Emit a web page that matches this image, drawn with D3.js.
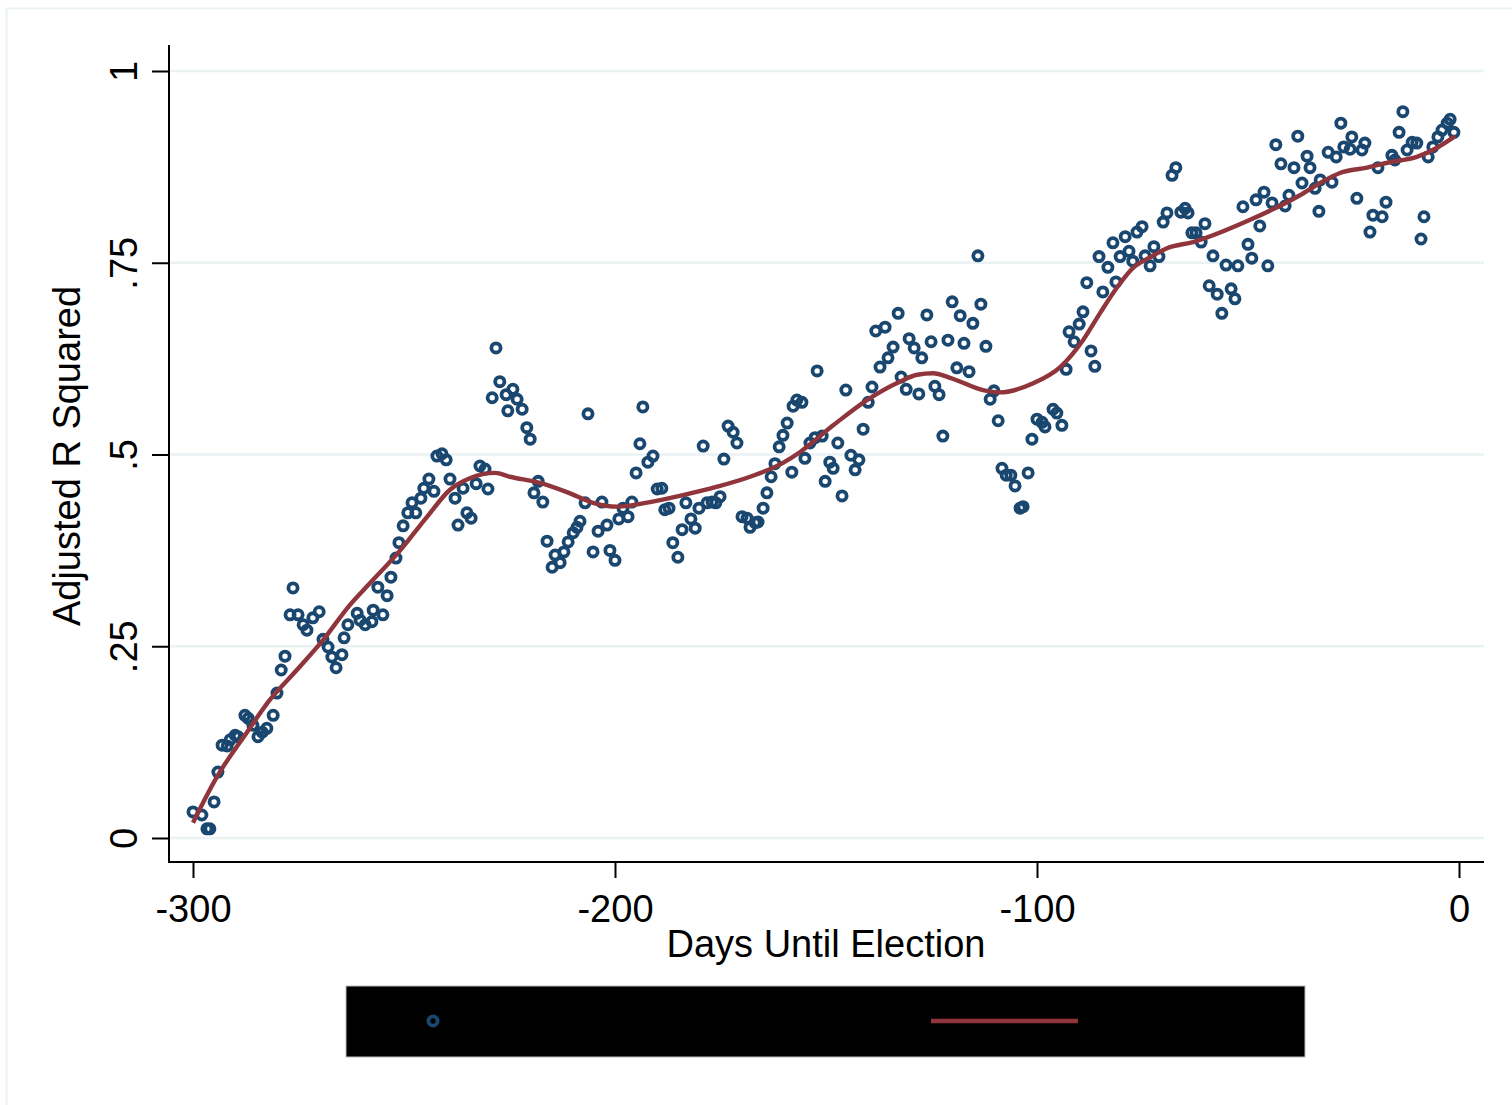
<!DOCTYPE html>
<html>
<head>
<meta charset="utf-8">
<script src="https://cdn.jsdelivr.net/npm/d3@7"></script>
<style>
  body { margin: 0; background: #fff; }
  text { font-family: "Liberation Sans", Arial, sans-serif; }
</style>
</head>
<body>
<div id="chart"></div>
<script>
// 散点数据：距离选举的天数 与 调整后 R 方
const days = [
  -300.0, -297.9, -296.7, -296.0, -295.0, -294.1, -293.1, -291.9, -291.2, -290.0,
  -289.3, -287.7, -286.9, -285.8, -284.6, -283.6, -282.5, -281.0, -280.1, -279.1,
  -278.2, -277.0, -276.3, -275.1, -273.9, -273.0, -271.6, -270.1, -269.2, -268.0,
  -267.1, -266.1, -264.7, -264.2, -263.3, -261.1, -260.4, -259.2, -257.6, -257.3,
  -256.2, -255.0, -254.0, -253.1, -251.9, -251.2, -250.2, -249.1, -248.1, -247.2,
  -246.0, -245.3, -244.1, -242.9, -242.2, -241.0, -240.0, -239.1, -237.9, -237.2,
  -236.0, -235.1, -234.1, -232.9, -232.0, -230.8, -230.1, -229.1, -228.2, -227.3,
  -225.8, -225.4, -224.2, -223.2, -222.0, -220.9, -220.1, -219.2, -218.2, -217.1,
  -216.1, -214.9, -214.2, -213.0, -212.1, -211.1, -209.9, -209.0, -208.3, -207.1,
  -206.4, -205.2, -204.0, -203.1, -201.9, -201.2, -200.0, -199.1, -198.1, -196.9,
  -196.0, -195.0, -194.1, -193.4, -192.2, -191.0, -190.0, -188.9, -188.2, -187.2,
  -186.3, -185.1, -184.1, -183.2, -182.0, -181.0, -180.1, -179.1, -178.2, -177.0,
  -176.1, -175.1, -174.2, -173.2, -172.0, -171.1, -169.9, -168.7, -168.0, -166.8,
  -166.1, -164.9, -164.0, -163.0, -162.1, -161.1, -160.2, -159.2, -158.1, -157.8,
  -156.9, -155.7, -155.0, -153.8, -152.6, -152.1, -150.9, -150.2, -149.1, -148.3,
  -147.2, -146.2, -145.3, -144.1, -143.1, -142.2, -141.2, -140.0, -139.1, -138.2,
  -137.2, -136.0, -135.3, -134.1, -132.9, -132.2, -131.0, -130.3, -129.1, -128.0,
  -127.3, -126.1, -125.1, -124.2, -123.2, -122.3, -121.1, -120.1, -119.0, -118.2,
  -117.3, -116.1, -115.2, -114.0, -113.3, -112.1, -111.1, -110.2, -109.2, -108.3,
  -107.3, -106.2, -105.2, -104.0, -103.3, -102.1, -101.2, -100.0, -98.8, -98.1,
  -96.2, -95.3, -94.1, -93.1, -92.4, -91.2, -90.0, -89.1, -88.2, -87.2,
  -86.3, -85.3, -84.4, -83.2, -82.0, -81.3, -80.3, -79.1, -78.2, -77.3,
  -76.3, -75.1, -74.4, -73.2, -72.3, -71.1, -70.1, -69.2, -68.0, -67.1,
  -65.9, -64.9, -64.2, -63.3, -62.3, -61.1, -60.2, -59.2, -58.3, -57.3,
  -56.2, -55.2, -54.0, -53.1, -52.4, -51.2, -50.0, -49.1, -48.1, -47.2,
  -46.2, -45.3, -44.3, -43.4, -42.2, -41.2, -40.3, -39.1, -38.2, -37.2,
  -36.0, -35.3, -34.1, -33.2, -32.9, -31.0, -30.1, -29.1, -28.0, -27.3,
  -25.8, -25.4, -24.2, -23.0, -22.3, -21.1, -20.4, -19.2, -18.2, -17.3,
  -15.9, -15.2, -14.2, -13.3, -12.3, -11.1, -10.0, -9.0, -8.3, -7.3,
  -6.2, -5.0, -4.0, -2.8, -2.1, -1.2
];
const adjR2 = [
  0.034, 0.030, 0.012, 0.012, 0.047, 0.086, 0.121, 0.120, 0.128, 0.134,
  0.132, 0.160, 0.156, 0.147, 0.132, 0.138, 0.143, 0.160, 0.189, 0.219,
  0.237, 0.291, 0.326, 0.291, 0.278, 0.271, 0.287, 0.295, 0.259, 0.249,
  0.236, 0.222, 0.239, 0.261, 0.278, 0.293, 0.284, 0.278, 0.282, 0.297,
  0.327, 0.291, 0.316, 0.340, 0.365, 0.385, 0.407, 0.424, 0.437, 0.424,
  0.443, 0.456, 0.468, 0.452, 0.498, 0.501, 0.493, 0.468, 0.443, 0.408,
  0.456, 0.424, 0.417, 0.462, 0.485, 0.481, 0.455, 0.574, 0.639, 0.595,
  0.578, 0.557, 0.585, 0.572, 0.559, 0.535, 0.520, 0.450, 0.465, 0.438,
  0.387, 0.353, 0.369, 0.359, 0.373, 0.386, 0.398, 0.405, 0.413, 0.437,
  0.553, 0.373, 0.400, 0.438, 0.408, 0.375, 0.362, 0.416, 0.430, 0.419,
  0.438, 0.476, 0.514, 0.562, 0.490, 0.498, 0.455, 0.456, 0.428, 0.430,
  0.385, 0.366, 0.402, 0.437, 0.416, 0.404, 0.430, 0.511, 0.437, 0.438,
  0.437, 0.445, 0.494, 0.537, 0.529, 0.515, 0.419, 0.417, 0.405, 0.411,
  0.412, 0.430, 0.450, 0.471, 0.488, 0.510, 0.525, 0.541, 0.477, 0.563,
  0.571, 0.568, 0.495, 0.515, 0.522, 0.609, 0.524, 0.465, 0.490, 0.482,
  0.515, 0.446, 0.584, 0.499, 0.480, 0.493, 0.533, 0.568, 0.588, 0.661,
  0.614, 0.666, 0.626, 0.640, 0.684, 0.601, 0.585, 0.651, 0.639, 0.579,
  0.626, 0.682, 0.647, 0.589, 0.578, 0.524, 0.649, 0.699, 0.613, 0.681,
  0.645, 0.608, 0.671, 0.759, 0.696, 0.641, 0.572, 0.583, 0.544, 0.482,
  0.473, 0.473, 0.459, 0.430, 0.432, 0.476, 0.520, 0.546, 0.542, 0.536,
  0.559, 0.554, 0.538, 0.611, 0.660, 0.647, 0.670, 0.686, 0.724, 0.635,
  0.615, 0.758, 0.712, 0.744, 0.776, 0.725, 0.758, 0.784, 0.765, 0.752,
  0.790, 0.797, 0.759, 0.746, 0.771, 0.758, 0.803, 0.815, 0.864, 0.874,
  0.816, 0.821, 0.815, 0.789, 0.789, 0.777, 0.801, 0.720, 0.759, 0.709,
  0.684, 0.747, 0.716, 0.703, 0.746, 0.823, 0.774, 0.756, 0.832, 0.798,
  0.842, 0.746, 0.828, 0.904, 0.879, 0.824, 0.838, 0.874, 0.915, 0.854,
  0.889, 0.874, 0.847, 0.817, 0.858, 0.894, 0.855, 0.888, 0.932, 0.901,
  0.898, 0.914, 0.834, 0.897, 0.906, 0.790, 0.812, 0.874, 0.810, 0.829,
  0.890, 0.884, 0.920, 0.947, 0.897, 0.907, 0.906, 0.781, 0.810, 0.888,
  0.901, 0.914, 0.923, 0.932, 0.937, 0.920
];

// 平滑曲线
const fitDays = [
  -300, -294.3, -287.2, -281.8, -275.4, -269.2, -262.8, -258.1, -250.9, -244.5,
  -239.1, -234.4, -228.4, -224.9, -217.8, -211.4, -205.2, -199.5, -191.7, -183.9,
  -175.8, -168, -160.2, -156.2, -148.3, -140.3, -132.5, -128.4, -124.6, -120.6,
  -112.8, -108.8, -100.9, -94.5, -89.1, -85.1, -81, -77.3, -73.2, -69.2,
  -63, -49.5, -37.7, -32.9, -28.2, -21.8, -16.4, -10, -5.2, -0.9
];
const fitValues = [
  0.020, 0.080, 0.138, 0.180, 0.219, 0.258, 0.304, 0.332, 0.375, 0.419,
  0.454, 0.469, 0.476, 0.471, 0.463, 0.451, 0.437, 0.432, 0.438, 0.447,
  0.458, 0.471, 0.489, 0.503, 0.538, 0.571, 0.595, 0.604, 0.606, 0.600,
  0.584, 0.581, 0.593, 0.614, 0.649, 0.684, 0.718, 0.743, 0.757, 0.769,
  0.777, 0.806, 0.838, 0.854, 0.867, 0.874, 0.881, 0.888, 0.900, 0.915
];

const xTicks = [-300, -200, -100, 0];
const yTicks = [0, 0.25, 0.5, 0.75, 1];
const yTickLabels = ["0", ".25", ".5", ".75", "1"];
const legendLabels = ["Adjusted R Squared", "lowess fit"];

const markerColor = "#1a476f";
const lineColor = "#90353b";
const gridColor = "#eaf2f3";

const W = 1512, H = 1105;
const svg = d3.select("#chart").append("svg")
    .attr("width", W)
    .attr("height", H);

svg.append("rect").attr("width", W).attr("height", H).attr("fill", "#fff");
// 外框
svg.append("rect")
    .attr("x", 6.5).attr("y", 8.5)
    .attr("width", W).attr("height", H)
    .attr("fill", "none")
    .attr("stroke", gridColor)
    .attr("stroke-width", 2);

// 比例尺
const x = d3.scaleLinear().domain([-300, 0]).range([193, 1459]);
const y = d3.scaleLinear().domain([0, 1]).range([838, 71]);

const plotLeft = 169, plotRight = 1484, plotTop = 45, plotBottom = 862;

// 网格线
svg.append("g").selectAll("line")
    .data(yTicks)
    .enter().append("line")
    .attr("x1", plotLeft).attr("x2", plotRight)
    .attr("y1", d => y(d)).attr("y2", d => y(d))
    .attr("stroke", gridColor)
    .attr("stroke-width", 2.6);

// Y轴
const yAxis = svg.append("g")
    .attr("transform", `translate(${plotLeft},0)`)
    .call(d3.axisLeft(y).tickValues(yTicks).tickSize(17).tickFormat((d, i) => yTickLabels[i]));
yAxis.select(".domain").remove();
yAxis.selectAll(".tick line").attr("stroke", "#000").attr("stroke-width", 2);
yAxis.selectAll(".tick text")
    .attr("x", 0).attr("y", 0).attr("dy", null)
    .attr("transform", "translate(-32,0) rotate(-90)")
    .attr("text-anchor", "middle")
    .style("font-size", "38px")
    .attr("fill", "#000");

// X轴（用普通连字符作负号）
const xAxis = svg.append("g")
    .attr("transform", `translate(0,${plotBottom})`)
    .call(d3.axisBottom(x).tickValues(xTicks).tickSize(16).tickFormat(d => String(d)));
xAxis.select(".domain").remove();
xAxis.selectAll(".tick line").attr("stroke", "#000").attr("stroke-width", 2);
xAxis.selectAll(".tick text")
    .attr("y", 60).attr("dy", null)
    .style("font-size", "38px")
    .attr("fill", "#000");

// 轴线
svg.append("line")
    .attr("x1", plotLeft).attr("x2", plotLeft)
    .attr("y1", plotTop).attr("y2", plotBottom + 1)
    .attr("stroke", "#000").attr("stroke-width", 2);
svg.append("line")
    .attr("x1", plotLeft - 1).attr("x2", plotRight)
    .attr("y1", plotBottom).attr("y2", plotBottom)
    .attr("stroke", "#000").attr("stroke-width", 2);

// 轴标题
svg.append("text")
    .attr("x", 826).attr("y", 957)
    .attr("text-anchor", "middle")
    .style("font-size", "38px")
    .text("Days Until Election");
svg.append("text")
    .attr("transform", "translate(80,456) rotate(-90)")
    .attr("text-anchor", "middle")
    .style("font-size", "38px")
    .text("Adjusted R Squared");

// 散点
const points = days.map((d, i) => ({ day: d, r2: adjR2[i] }));
svg.append("g").selectAll("circle")
    .data(points)
    .enter().append("circle")
    .attr("cx", d => x(d.day))
    .attr("cy", d => y(d.r2))
    .attr("r", 4.6)
    .attr("fill", "none")
    .attr("stroke", markerColor)
    .attr("stroke-width", 3.8);

// 平滑曲线
const fit = fitDays.map((d, i) => ({ day: d, v: fitValues[i] }));
svg.append("path")
    .datum(fit)
    .attr("fill", "none")
    .attr("stroke", lineColor)
    .attr("stroke-width", 4.4)
    .attr("d", d3.line().x(d => x(d.day)).y(d => y(d.v)).curve(d3.curveMonotoneX));

// 图例
const legend = svg.append("g");
legend.append("rect")
    .attr("x", 346).attr("y", 986)
    .attr("width", 959).attr("height", 71)
    .attr("fill", "#000")
    .attr("stroke", "#bbb")
    .attr("stroke-width", 1);
legend.append("circle")
    .attr("cx", 433).attr("cy", 1021)
    .attr("r", 4.6)
    .attr("fill", "none")
    .attr("stroke", markerColor)
    .attr("stroke-width", 3.8);
legend.append("text")
    .attr("x", 533).attr("y", 1034)
    .style("font-size", "38px")
    .attr("fill", "#000")
    .text(legendLabels[0]);
legend.append("line")
    .attr("x1", 931).attr("x2", 1078)
    .attr("y1", 1021).attr("y2", 1021)
    .attr("stroke", lineColor)
    .attr("stroke-width", 4.4);
legend.append("text")
    .attr("x", 1114).attr("y", 1034)
    .style("font-size", "38px")
    .attr("fill", "#000")
    .text(legendLabels[1]);
</script>
</body>
</html>
